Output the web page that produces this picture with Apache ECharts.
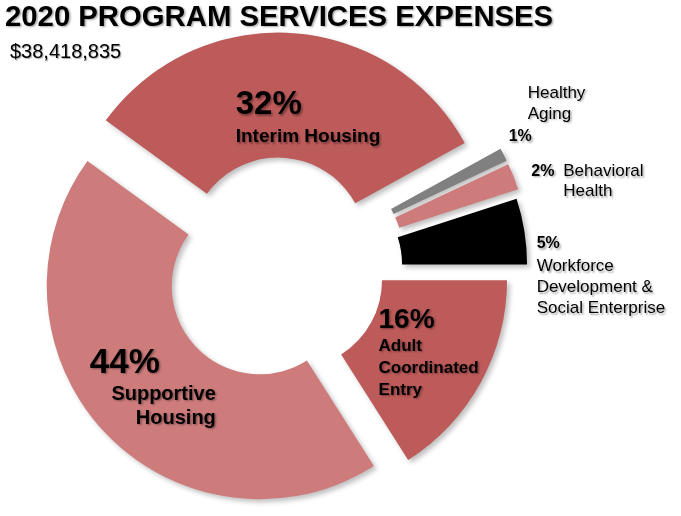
<!DOCTYPE html>
<html>
<head>
<meta charset="UTF-8">
<title>2020 Program Services Expenses</title>
<script src="https://cdn.jsdelivr.net/npm/echarts@6/dist/echarts.min.js"></script>
<style>html,body{margin:0;padding:0;background:#fff;}</style>
</head>
<body>
<div id="expenseBox" style="width:681px;height:516px;"></div>
<script>
// data, clockwise from Healthy Aging
var categories = ['Healthy Aging', 'Behavioral Health', 'Workforce Development & Social Enterprise',
    'Adult Coordinated Entry', 'Supportive Housing', 'Interim Housing'];
var shares = [1, 2, 5, 16, 44, 32];
var nameLines = [['Healthy', 'Aging'], ['Behavioral', 'Health'], ['Workforce', 'Development &', 'Social Enterprise'],
    ['Adult', 'Coordinated', 'Entry'], ['Supportive', 'Housing'], ['Interim Housing']];
var titleText = '2020 PROGRAM SERVICES EXPENSES';
var totalText = '$38,418,835';

var sliceColors = ['#808080', '#CD7B7B', '#000000', '#BD5A5A', '#CD7B7B', '#BD5A5A'];
// how far each slice is pulled out of the ring
var pullOut = [42, 42, 38, 20, 23, 25];
// label nudges from the middle of the slice
var labelShift = [[58, -66], [73, -17], [71, 35], [-50, -1], [68, -4], [-52, 25]];
var labelAlign = ['left', 'left', 'left', 'left', 'right', 'left'];

var FONT = '"Liberation Sans", Arial, sans-serif';
var shadow = {
    textShadowColor: 'rgba(0,0,0,0.35)',
    textShadowBlur: 2,
    textShadowOffsetX: 1.5,
    textShadowOffsetY: 1.5
};

function st(o) {
    return Object.assign({ fontFamily: FONT, color: '#000' }, shadow, o);
}

function labelText(i) {
    var p = shares[i] + '%';
    var L = nameLines[i];
    if (i === 0) return '{sp| }{n|' + L[0] + '}\n{sp| }{n|' + L[1] + '}\n{ps|' + p + '}';
    if (i === 1) return '{ps|' + p + '}{n|' + L[0] + '}\n{sp| }{n|' + L[1] + '}';
    if (i === 2) return '{ps|' + p + '}\n{n|' + L.join('}\n{n|') + '}';
    if (i === 3) return '{pm|' + p + '}\n{b|' + L.join('}\n{b|') + '}';
    return '{pl|' + p + '}\n{b|' + L.join('}\n{b|') + '}';
}

function richFor(i) {
    var nh = i === 1 ? 20 : 21;
    return {
        n: st({ fontSize: 17, lineHeight: nh }),
        sp: st({ fontSize: 17, lineHeight: nh, width: i === 0 ? 19 : 32 }),
        ps: st({ fontSize: 16, fontWeight: 'bold', lineHeight: i === 1 ? 20 : 24, width: i === 1 ? 32 : null, align: 'left' }),
        pm: st({ fontSize: 28, fontWeight: 'bold', lineHeight: 30, align: 'left' }),
        pl: st({ fontSize: i === 4 ? 35 : 33, fontWeight: 'bold', lineHeight: i === 4 ? 38 : 39,
            width: i === 4 ? 126 : null, align: 'left' }),
        b: st({ fontSize: i === 3 ? 17 : (i === 4 ? 20 : 19), fontWeight: 'bold', lineHeight: i === 3 ? 22 : 24,
            align: i === 4 ? 'right' : 'left' })
    };
}

var myChart = echarts.init(document.getElementById('expenseBox'));

var series = categories.map(function (cat, k) {
    return {
        type: 'pie',
        name: cat,
        center: [276.5, 270.5],
        radius: [88, 213],
        startAngle: 28.8,
        clockwise: true,
        silent: true,
        avoidLabelOverlap: false,
        selectedMode: 'multiple',
        selectedOffset: pullOut[k],
        labelLine: { show: false },
        labelLayout: function (params) {
            var i = params.dataIndex;
            return { align: labelAlign[i], dx: labelShift[i][0], dy: labelShift[i][1] };
        },
        data: categories.map(function (name, i) {
            var me = i === k;
            return {
                name: name,
                value: shares[i],
                selected: me,
                itemStyle: me ? {
                    color: sliceColors[i],
                    shadowColor: 'rgba(0,0,0,0.25)',
                    shadowBlur: 5,
                    shadowOffsetX: 3,
                    shadowOffsetY: 3
                } : { color: 'transparent' },
                label: {
                    show: me,
                    position: 'inside',
                    verticalAlign: 'middle',
                    formatter: labelText(i),
                    rich: richFor(i)
                }
            };
        })
    };
});

var option = {
    animation: false,
    title: [{
        text: titleText,
        left: 0,
        top: -2,
        textStyle: st({ fontSize: 29.3, fontWeight: 'bold' })
    }, {
        text: totalText,
        left: 5,
        top: 37,
        textStyle: st({ fontSize: 20, fontWeight: 'normal', textShadowBlur: 1, textShadowOffsetX: 1, textShadowOffsetY: 1 })
    }],
    series: series
};

myChart.setOption(option);
</script>
</body>
</html>
